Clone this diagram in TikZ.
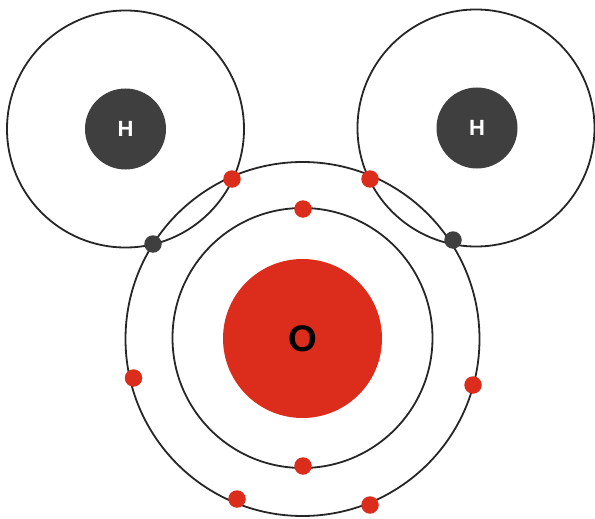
\documentclass[tikz,border=0pt]{standalone}
\usepackage{fontspec}
\setmainfont{Liberation Sans}
\definecolor{oxred}{HTML}{DC2C1C}
\definecolor{hgray}{HTML}{3F3F3F}
\begin{document}
\begin{tikzpicture}[x=1pt,y=-1pt]
        \tikzstyle{shell}=[circle, draw=black!85, line width=1.8pt, fill=none, inner sep=0pt]
        \tikzstyle{nucleus}=[circle, inner sep=0pt, font=\bfseries]
        \tikzstyle{electron}=[circle, inner sep=0pt, minimum size=17.5pt, fill=oxred]
        \tikzstyle{shared}=[circle, inner sep=0pt, minimum size=17.5pt, fill=hgray]
        \useasboundingbox (0,0) rectangle (595,519);

        \node[shell, minimum size=237pt] (h1shell) at (125.5,129) {};
        \node[shell, minimum size=237pt] (h2shell) at (476,128) {};
        \node[shell, minimum size=354pt] (ooutershell) at (302.5,339) {};
        \node[shell, minimum size=260pt] (oinnershell) at (302.5,338) {};

        \node[nucleus, minimum size=81pt, fill=hgray, text=white, font=\bfseries\fontsize{22}{22}\selectfont] (h1) at (125.5,129) {H};
        \node[nucleus, minimum size=81pt, fill=hgray, text=white, font=\bfseries\fontsize{22}{22}\selectfont] (h2) at (477,128) {H};
        \node[nucleus, minimum size=159pt, fill=oxred, text=black, font=\bfseries\fontsize{37}{37}\selectfont] (o) at (302.5,338.5) {O};

        \node[electron] (e1) at (232,179) {};
        \node[electron] (e2) at (370,179) {};
        \node[electron] (e3) at (303,209) {};
        \node[electron] (e4) at (303,466) {};
        \node[electron] (e5) at (133.5,378) {};
        \node[electron] (e6) at (473,385) {};
        \node[electron] (e7) at (237,499) {};
        \node[electron] (e8) at (370,505) {};

        \node[shared] (s1) at (153,244) {};
        \node[shared] (s2) at (453,240) {};
    \end{tikzpicture}
\end{document}
